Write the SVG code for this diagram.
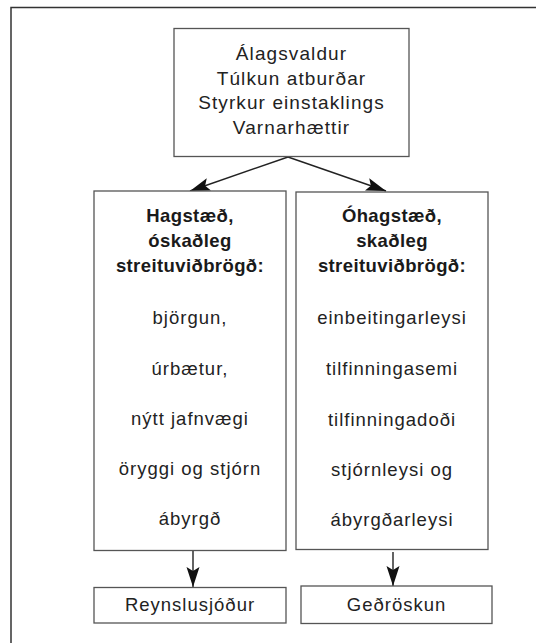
<svg xmlns="http://www.w3.org/2000/svg" width="536" height="643" viewBox="0 0 536 643">
<style>
.box{fill:#fff;stroke:#555;stroke-width:1.3}
.t{font-family:"Liberation Sans",Arial,sans-serif;font-size:18.5px;fill:#222;text-anchor:middle;letter-spacing:1px}
.top{font-size:19px;letter-spacing:1.1px}
.b{font-weight:bold;letter-spacing:0.4px;fill:#1a1a1a}
.c{fill:none;stroke:#222;stroke-width:1.4}
</style>
<defs>
<marker id="ah" markerUnits="userSpaceOnUse" markerWidth="22" markerHeight="14" refX="20" refY="7" orient="auto">
<path d="M0,0.5 L20,7 L0,13.5 L4,7 z" fill="#111"/>
</marker>
</defs>
<rect x="11" y="7.5" width="600" height="700" fill="#fff" stroke="#333" stroke-width="1.5"/>
<g id="connectors">
<line class="c" x1="288" y1="157" x2="190" y2="191" marker-end="url(#ah)"/>
<line class="c" x1="288" y1="157" x2="386" y2="191" marker-end="url(#ah)"/>
<line class="c" x1="193" y1="551" x2="193" y2="587" marker-end="url(#ah)"/>
<line class="c" x1="393" y1="552" x2="393" y2="586" marker-end="url(#ah)"/>
</g>
<g id="top">
<rect class="box" x="174" y="28.5" width="235" height="128"/>
<text class="t top" x="291.5" y="60">Álagsvaldur</text>
<text class="t top" x="291.5" y="84.5">Túlkun atburðar</text>
<text class="t top" x="291.5" y="109">Styrkur einstaklings</text>
<text class="t top" x="291.5" y="134">Varnarhættir</text>
</g>
<g id="left">
<rect class="box" x="94" y="191" width="192" height="359.5"/>
<text class="t b" x="190" y="222">Hagstæð,</text>
<text class="t b" x="190" y="247">óskaðleg</text>
<text class="t b" x="190" y="272">streituviðbrögð:</text>
<text class="t" x="190" y="324">björgun,</text>
<text class="t" x="190" y="375">úrbætur,</text>
<text class="t" x="190" y="425">nýtt jafnvægi</text>
<text class="t" x="190" y="475">öryggi og stjórn</text>
<text class="t" x="190" y="525">ábyrgð</text>
</g>
<g id="right">
<rect class="box" x="296" y="192" width="192" height="357.5"/>
<text class="t b" x="392" y="222">Óhagstæð,</text>
<text class="t b" x="392" y="247">skaðleg</text>
<text class="t b" x="392" y="272">streituviðbrögð:</text>
<text class="t" x="392" y="324">einbeitingarleysi</text>
<text class="t" x="392" y="375">tilfinningasemi</text>
<text class="t" x="392" y="426">tilfinningadoði</text>
<text class="t" x="392" y="476">stjórnleysi og</text>
<text class="t" x="392" y="526">ábyrgðarleysi</text>
</g>
<g id="reynslusjodur">
<rect class="box" x="94" y="587.5" width="192" height="35.5"/>
<text class="t" x="190" y="611">Reynslusjóður</text>
</g>
<g id="gedroskun">
<rect class="box" x="301" y="586" width="191" height="37.5"/>
<text class="t" x="396.5" y="610.5">Geðröskun</text>
</g>
</svg>
